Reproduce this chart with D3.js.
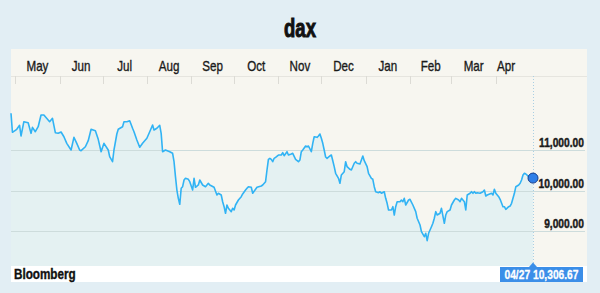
<!DOCTYPE html>
<html>
<head>
<meta charset="utf-8">
<script src="https://cdn.jsdelivr.net/npm/d3@7"></script>
<style>
  html, body { margin: 0; padding: 0; background: #e2eef4; }
  svg { display: block; }
  text { font-family: "Liberation Sans", Arial, sans-serif; }
</style>
</head>
<body>
<svg id="chart" width="600" height="293"></svg>
<script>
// DAX daily closes, one year to 27 April 2016
const dates = [
  "2015-04-28","2015-04-29","2015-05-02","2015-05-04","2015-05-05","2015-05-07","2015-05-10","2015-05-12","2015-05-13","2015-05-15","2015-05-17","2015-05-19","2015-05-21","2015-05-25","2015-05-27","2015-05-29","2015-05-31",
  "2015-06-02","2015-06-04","2015-06-06","2015-06-09","2015-06-11","2015-06-13","2015-06-15","2015-06-16","2015-06-19","2015-06-21","2015-06-23","2015-06-26","2015-06-28","2015-06-30",
  "2015-07-02","2015-07-05","2015-07-06","2015-07-08","2015-07-09","2015-07-11","2015-07-12","2015-07-15","2015-07-16","2015-07-18","2015-07-20","2015-07-22","2015-07-23","2015-07-25","2015-07-27","2015-07-29",
  "2015-08-01","2015-08-03","2015-08-05","2015-08-06","2015-08-08","2015-08-10","2015-08-11","2015-08-12","2015-08-14","2015-08-17","2015-08-19","2015-08-20","2015-08-21","2015-08-22","2015-08-23","2015-08-24","2015-08-25","2015-08-26","2015-08-27","2015-08-28","2015-08-30","2015-08-31",
  "2015-09-02","2015-09-03","2015-09-04","2015-09-06","2015-09-07","2015-09-09","2015-09-11","2015-09-13","2015-09-14","2015-09-17","2015-09-19","2015-09-20","2015-09-22","2015-09-23","2015-09-24","2015-09-25","2015-09-26","2015-09-27","2015-09-29","2015-09-30",
  "2015-10-01","2015-10-02","2015-10-04","2015-10-06","2015-10-07","2015-10-09","2015-10-10","2015-10-11","2015-10-13","2015-10-14","2015-10-16","2015-10-17","2015-10-20","2015-10-21","2015-10-23","2015-10-24","2015-10-25","2015-10-26","2015-10-27","2015-10-28","2015-10-29","2015-10-30",
  "2015-11-01","2015-11-03","2015-11-04","2015-11-05","2015-11-07","2015-11-08","2015-11-10","2015-11-11","2015-11-13","2015-11-15","2015-11-16","2015-11-17","2015-11-18","2015-11-20","2015-11-21","2015-11-22","2015-11-24","2015-11-25","2015-11-26","2015-11-28","2015-11-29","2015-11-30",
  "2015-12-01","2015-12-02","2015-12-03","2015-12-04","2015-12-05","2015-12-07","2015-12-08","2015-12-09","2015-12-10","2015-12-11","2015-12-13","2015-12-14","2015-12-15","2015-12-17","2015-12-18","2015-12-19","2015-12-21","2015-12-22","2015-12-24","2015-12-25","2015-12-26","2015-12-28","2015-12-30","2015-12-31",
  "2016-01-02","2016-01-03","2016-01-05","2016-01-06","2016-01-07","2016-01-08","2016-01-10","2016-01-11","2016-01-12","2016-01-14","2016-01-15","2016-01-16","2016-01-17","2016-01-19","2016-01-20","2016-01-21","2016-01-22","2016-01-23","2016-01-25","2016-01-26","2016-01-27","2016-01-28","2016-01-29","2016-01-31",
  "2016-02-01","2016-02-03","2016-02-05","2016-02-06","2016-02-08","2016-02-09","2016-02-11","2016-02-12","2016-02-13","2016-02-14","2016-02-15","2016-02-16","2016-02-17","2016-02-18","2016-02-19","2016-02-20","2016-02-22","2016-02-23","2016-02-25","2016-02-26","2016-02-27","2016-02-29",
  "2016-03-01","2016-03-03","2016-03-04","2016-03-06","2016-03-07","2016-03-08","2016-03-10","2016-03-11","2016-03-12","2016-03-14","2016-03-15","2016-03-16","2016-03-17","2016-03-18","2016-03-19","2016-03-21","2016-03-23","2016-03-24","2016-03-25","2016-03-26","2016-03-29","2016-03-30","2016-03-31",
  "2016-04-01","2016-04-03","2016-04-04","2016-04-06","2016-04-07","2016-04-08","2016-04-10","2016-04-11","2016-04-12","2016-04-14","2016-04-15","2016-04-17","2016-04-18","2016-04-19","2016-04-20","2016-04-21","2016-04-22","2016-04-24","2016-04-25","2016-04-27"
];
const closes = [
  11906,11437,11511,11610,11346,11699,11674,11412,11560,11452,11575,11864,11864,11699,11783,11427,11412,
  11444,11328,11165,11000,11313,11165,11000,10983,11081,11230,11511,11476,11264,10958,
  11165,11000,10835,10711,11000,11395,11511,11575,11699,11699,11723,11536,11452,11247,11067,11165,
  11289,11452,11617,11494,11536,11610,11412,10958,11000,10958,10918,10711,10341,10012,9807,9659,10054,10094,10259,10301,10277,10217,
  10012,10301,10079,10136,10259,10136,10094,10178,10136,10079,9889,9931,9889,9723,9600,9437,9642,9561,9477,9561,
  9519,9642,9765,9847,9914,10012,10054,10094,10079,9931,10030,10079,10111,10136,10217,10506,10770,10795,10770,10711,10795,10820,
  10876,10876,10933,10859,10958,10876,10901,10918,10770,10711,10753,10958,11000,11099,11081,11099,10958,11165,11328,11313,11346,11395,
  11289,11165,11000,10827,10795,10852,10876,10736,10588,10425,10301,10178,10383,10464,10711,10588,10523,10506,10672,10711,10672,10654,10852,10736,
  10588,10425,10301,10277,10094,9970,9946,9970,9931,9970,9807,9684,9519,9519,9600,9395,9600,9723,9723,9765,9723,9807,9642,9765,
  9783,9642,9477,9314,9148,8983,8859,8943,8761,8943,9025,9106,9190,9314,9477,9395,9437,9561,9190,9395,9477,9519,
  9642,9765,9807,9765,9723,9807,9723,9519,9889,9931,9970,9931,9970,9931,9946,9931,9970,10012,9864,9889,9931,9889,10030,
  9931,9847,9783,9600,9600,9536,9600,9617,9684,9931,10094,10136,10178,10259,10383,10425,10407,10341,10301,10306.67
];
const monthLabels = ["May","Jun","Jul","Aug","Sep","Oct","Nov","Dec","Jan","Feb","Mar","Apr"];
const gridValues = [9000, 10000, 11000];
const titleText = "dax";
const sourceText = "Bloomberg";

const parse = d3.timeParse("%Y-%m-%d");
const series = dates.map((d, i) => ({ date: parse(d), value: closes[i] }));
const last = series[series.length - 1];

const svg = d3.select("#chart");

// condensed type: squeeze a regular face horizontally around its anchor point
function placeNarrow(sel, px, py, k) {
  sel.attr("transform", (d, i) => {
    const X = typeof px === "function" ? px(d, i) : px;
    const Y = typeof py === "function" ? py(d, i) : py;
    return `translate(${X},${Y}) scale(${k},1)`;
  });
}

// frame geometry
const panel = { left: 11, right: 587, top: 49, bottom: 282 };
const plotBottom = 266;
const x = d3.scaleTime().domain([series[0].date, last.date]).range([11, 533]);
const y = d3.scaleLinear().domain([9000, 11000]).range([231, 150]);

// title
svg.append("text")
  .attr("text-anchor", "middle")
  .attr("font-size", 25).attr("font-weight", "bold")
  .attr("fill", "#111").attr("stroke", "#111").attr("stroke-width", 1)
  .text(titleText)
  .call(placeNarrow, 300, 37, 0.74);

// panel background
svg.append("rect")
  .attr("x", panel.left).attr("y", panel.top)
  .attr("width", panel.right - panel.left).attr("height", panel.bottom - panel.top)
  .attr("fill", "#f7f6f0");

// month axis along the top
const monthStarts = d3.timeMonth.range(d3.timeMonth.ceil(series[0].date), d3.timeMonth.offset(d3.timeMonth.floor(last.date), 1));
svg.append("line")
  .attr("x1", panel.left).attr("x2", panel.right)
  .attr("y1", 76.5).attr("y2", 76.5)
  .attr("stroke", "#e6e5df");
svg.append("g").selectAll("line").data(monthStarts).join("line")
  .attr("x1", d => Math.round(x(d)) + 0.5).attr("x2", d => Math.round(x(d)) + 0.5)
  .attr("y1", 76).attr("y2", 84)
  .attr("stroke", "#dcdbd5");
svg.append("g").selectAll("text").data(monthStarts).join("text")
  .attr("text-anchor", "middle")
  .attr("font-size", 14.5)
  .attr("fill", "#1a1a1a").attr("stroke", "#1a1a1a").attr("stroke-width", 0.35)
  .text((d, i) => monthLabels[i])
  .call(placeNarrow, d => {
    const mid = (x(d) + x(d3.timeMonth.offset(d, 1))) / 2;
    return Math.min(mid, x(last.date) - 27);
  }, 71, 0.8);

// filled area under the index
const area = d3.area().x(d => x(d.date)).y0(plotBottom).y1(d => y(d.value));
svg.append("path").datum(series).attr("d", area).attr("fill", "#e4f1f2");

// horizontal gridlines and value labels
svg.append("g").selectAll("line").data(gridValues).join("line")
  .attr("x1", panel.left).attr("x2", panel.right - 2)
  .attr("y1", d => Math.round(y(d)) + 0.5).attr("y2", d => Math.round(y(d)) + 0.5)
  .attr("stroke", "#cddcdc").attr("stroke-width", 1);
svg.append("g").selectAll("text").data(gridValues).join("text")
  .attr("text-anchor", "end")
  .attr("font-size", 13.5).attr("font-weight", "bold")
  .attr("fill", "#1a1a1a").attr("stroke", "#1a1a1a").attr("stroke-width", 0.45)
  .text(d => d3.format(",.2f")(d))
  .call(placeNarrow, 584, d => y(d) - 3, 0.76);

// cursor line at the latest date
svg.append("line")
  .attr("x1", Math.round(x(last.date)) + 0.5).attr("x2", Math.round(x(last.date)) + 0.5)
  .attr("y1", 76).attr("y2", 264)
  .attr("stroke", "#a9cfe3").attr("stroke-dasharray", "1,2");

// the index line
const line = d3.line().x(d => x(d.date)).y(d => y(d.value));
svg.append("path").datum(series).attr("d", line)
  .attr("fill", "none").attr("stroke", "#31b3f4").attr("stroke-width", 1.6)
  .attr("stroke-linejoin", "round");

// latest point marker
svg.append("circle")
  .attr("cx", x(last.date)).attr("cy", y(last.value)).attr("r", 5)
  .attr("fill", "#2f7fe8").attr("stroke", "#173f8c").attr("stroke-width", 1);

// footer strip
svg.append("rect")
  .attr("x", panel.left).attr("y", plotBottom)
  .attr("width", panel.right - panel.left).attr("height", panel.bottom - plotBottom)
  .attr("fill", "#ffffff");
svg.append("text")
  .attr("font-size", 15).attr("font-weight", "bold")
  .attr("fill", "#111").attr("stroke", "#111").attr("stroke-width", 0.4)
  .text(sourceText)
  .call(placeNarrow, 14, 279, 0.78);

// latest value tag
const fmtDate = d3.timeFormat("%m/%d");
const tagX = x(last.date);
svg.append("path")
  .attr("d", `M${tagX - 4},267 L${tagX},262.5 L${tagX + 4},267 Z`)
  .attr("fill", "#3b8ee8");
svg.append("rect")
  .attr("x", 500).attr("y", 267).attr("width", 83).attr("height", 15)
  .attr("fill", "#3b8ee8");
svg.append("text")
  .attr("text-anchor", "middle")
  .attr("font-size", 13.5).attr("font-weight", "bold")
  .attr("fill", "#ffffff").attr("stroke", "#ffffff").attr("stroke-width", 0.3)
  .text(`${fmtDate(last.date)} ${d3.format(",.2f")(last.value)}`)
  .call(placeNarrow, 541.5, 279, 0.76);
</script>
</body>
</html>
